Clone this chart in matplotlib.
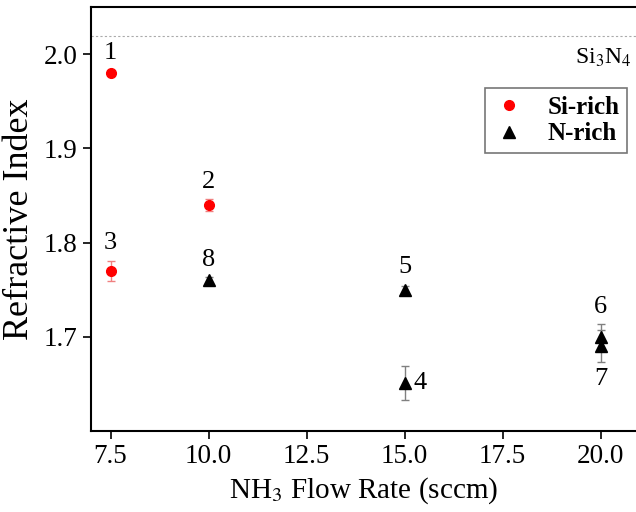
import matplotlib
matplotlib.use("Agg")
import matplotlib.pyplot as plt
from matplotlib.lines import Line2D

plt.rcParams['font.family'] = ['Liberation Serif', 'DejaVu Serif']
plt.rcParams['mathtext.fontset'] = 'stix'

# Si-rich samples
si_x = [7.5, 10.0, 7.5]
si_y = [1.98, 1.84, 1.77]
si_err = [0.002, 0.006, 0.011]
si_labels = ["1", "2", "3"]

# N-rich samples
n_x = [15.0, 15.0, 20.0, 20.0, 10.0]
n_y = [1.651, 1.75, 1.70, 1.69, 1.76]
n_err = [0.018, 0.004, 0.014, 0.017, 0.004]
n_labels = ["4", "5", "6", "7", "8"]

si3n4 = 2.019

fig = plt.figure(figsize=(6.36, 5.12), dpi=100)
ax = fig.add_axes([0.143, 0.158, 0.857, 0.828])

ax.errorbar(si_x, si_y, yerr=si_err, fmt='o', color='#ff0000', ms=7,
            ecolor='#f08080', elinewidth=1, capsize=3, capthick=1)
ax.errorbar(n_x, n_y, yerr=n_err, fmt='^', color='black', ms=8,
            ecolor='#808080', elinewidth=1, capsize=3, capthick=1)

ax.axhline(si3n4, color='#aaaaaa', ls=(0, (2, 2)), lw=0.8)
ax.text(20.8, si3n4 - 0.011, r'Si$_3$N$_4$', fontsize=17, ha='right', va='top')

# number labels next to points
offsets = {"1": (0, 0.021), "2": (0, 0.024), "3": (0, 0.03), "4": (0.4, 0),
           "5": (0, 0.024), "6": (0, 0.032), "7": (0, -0.035), "8": (0, 0.022)}
for x, y, lab in list(zip(si_x, si_y, si_labels)) + list(zip(n_x, n_y, n_labels)):
    dx, dy = offsets[lab]
    ax.text(x + dx, y + dy, lab, fontsize=19, ha='center', va='center')

ax.set_xlim(7.0, 20.9)
ax.set_ylim(1.6, 2.05)
ax.set_xticks([7.5, 10.0, 12.5, 15.0, 17.5, 20.0])
ax.set_yticks([1.7, 1.8, 1.9, 2.0])
ax.tick_params(labelsize=19.5, direction='out', length=6, width=1.2)
for s in ax.spines.values():
    s.set_linewidth(1.5)
ax.spines['right'].set_visible(False)

ax.set_xlabel(r'NH$_3$ Flow Rate (sccm)', fontsize=21, labelpad=4)
ax.set_ylabel('Refractive Index', fontsize=26, labelpad=6)

handles = [Line2D([], [], ls='none', marker='o', color='#ff0000', ms=7),
           Line2D([], [], ls='none', marker='^', color='black', ms=8)]
leg = ax.legend(handles, ['Si-rich', 'N-rich'], loc='upper right',
                bbox_to_anchor=(0.984, 0.809), borderaxespad=0, frameon=True,
                fancybox=False, edgecolor='#555555', prop={'weight': 'bold', 'size': 18},
                handletextpad=0.9, borderpad=0.3, labelspacing=0.15, handlelength=1.3)
leg.get_frame().set_linewidth(1.2)

fig.savefig('out.png', dpi=100)
